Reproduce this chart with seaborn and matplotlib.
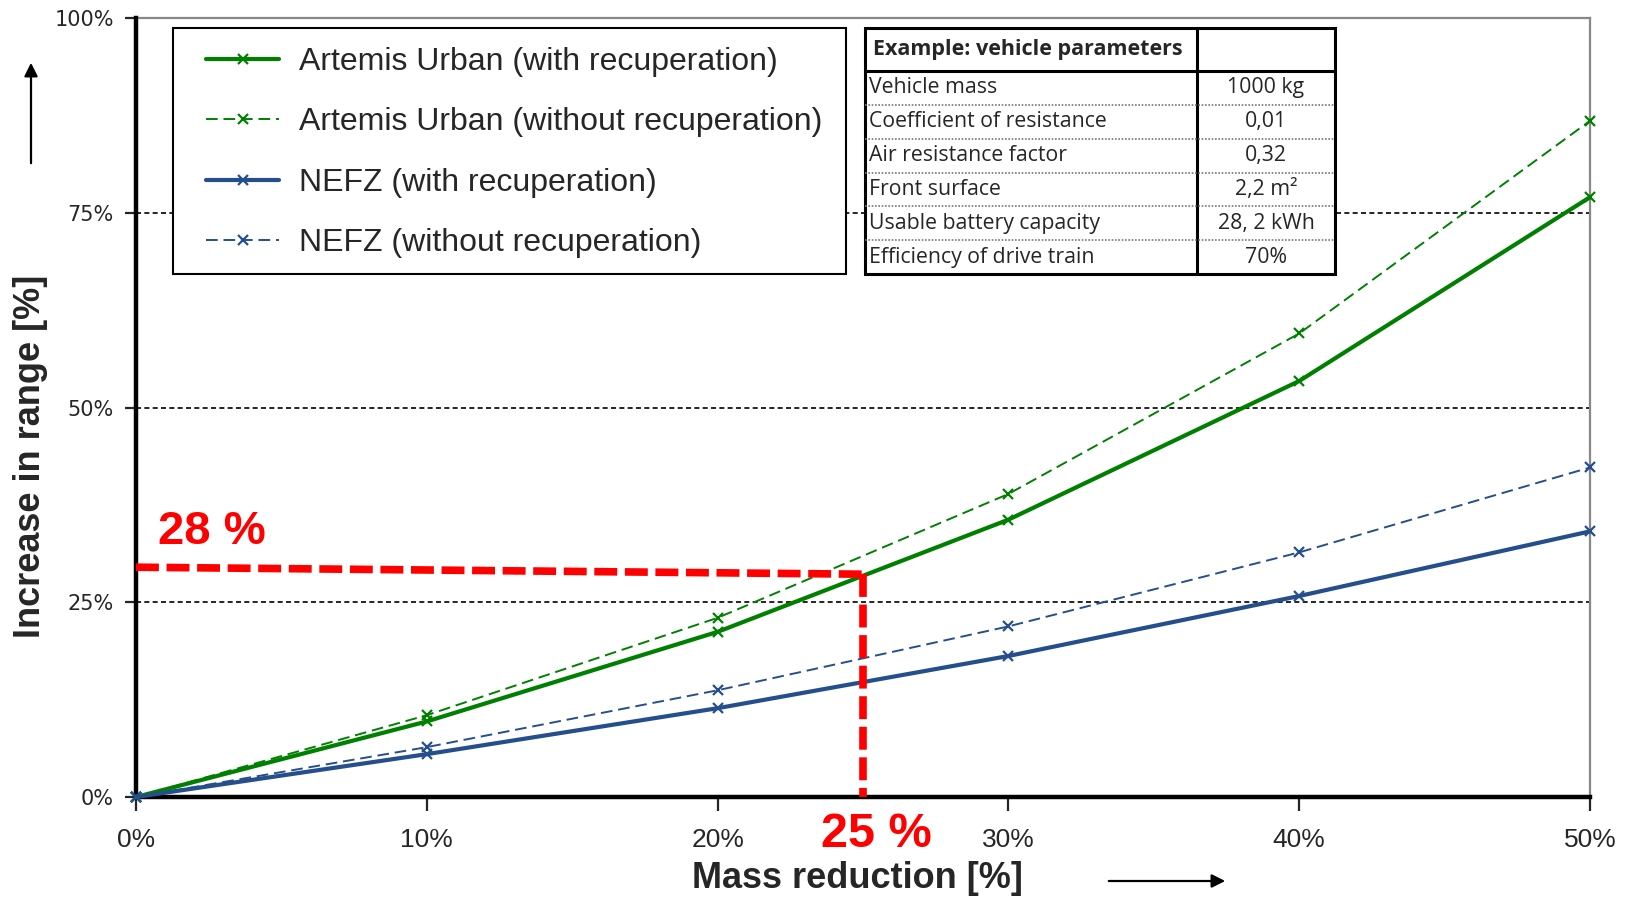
import numpy as np
import pandas as pd
import seaborn as sns
import matplotlib
matplotlib.use("Agg")
from matplotlib import pyplot as plt
from matplotlib import font_manager
from matplotlib.patches import Rectangle

# data (mass reduction in %, increase in range in %)
mass_reduction = [0, 10, 20, 30, 40, 50]
artemis_with = [0, 9.7, 21.2, 35.6, 53.4, 77.0]
artemis_without = [0, 10.5, 23.0, 38.9, 59.5, 86.8]
nefz_with = [0, 5.5, 11.4, 18.1, 25.8, 34.1]
nefz_without = [0, 6.4, 13.7, 21.9, 31.4, 42.3]

series_labels = [
    "Artemis Urban (with recuperation)",
    "Artemis Urban (without recuperation)",
    "NEFZ (with recuperation)",
    "NEFZ (without recuperation)",
]

# highlighted example point
marked_x = 25
marked_y_start = 29.5
marked_y_end = 28.6

x_ticks = [0, 10, 20, 30, 40, 50]
y_ticks = [0, 25, 50, 75, 100]

table_header = "Example: vehicle parameters"
table_params = [
    "Vehicle mass",
    "Coefficient of resistance",
    "Air resistance factor",
    "Front surface",
    "Usable battery capacity",
    "Efficiency of drive train",
]
table_values = ["1000 kg", "0,01", "0,32", "2,2 m²", "28, 2 kWh", "70%"]

GREEN = "#008000"
BLUE = "#254F8C"
RED = "#FF0000"

sns.set_style("white")
names = {f.name for f in font_manager.fontManager.ttflist}
NARROW = "Liberation Sans Narrow" if "Liberation Sans Narrow" in names else "Liberation Sans"
plt.rcParams["font.family"] = ["Liberation Sans", "DejaVu Sans"]

W, H = 1639, 898
fig = plt.figure(figsize=(W / 100, H / 100), dpi=100)
# axes box in pixels: left 136, right 1590, top 18, bottom 797
ax = fig.add_axes([136 / W, 1 - 797 / H, (1590 - 136) / W, (797 - 18) / H])

df = pd.DataFrame({
    "x": mass_reduction * 4,
    "y": artemis_with + artemis_without + nefz_with + nefz_without,
    "series": np.repeat(series_labels, len(mass_reduction)),
})

styles = [
    (GREEN, 3.0, "-"),
    (GREEN, 1.4, (0, (6, 3))),
    (BLUE, 3.0, "-"),
    (BLUE, 1.4, (0, (6, 3))),
]
for label, (color, lw, ls) in zip(series_labels, styles):
    sub = df[df["series"] == label]
    sns.lineplot(data=sub, x="x", y="y", ax=ax, color=color, linewidth=lw,
                 linestyle=ls, marker="x", markersize=7, markeredgewidth=1.6,
                 markeredgecolor=color, label=label, clip_on=False, zorder=4)

# dashed grid lines between spines
for yv in y_ticks[1:-1]:
    ax.axhline(yv, color="black", linewidth=1.2, linestyle=(0, (3, 2)), zorder=1)

# red example marker lines
ax.plot([0, marked_x], [marked_y_start, marked_y_end], color=RED, linewidth=5.5,
        linestyle=(0, (3.0, 1.0)), solid_capstyle="butt", zorder=5)
ax.plot([marked_x, marked_x], [marked_y_end, 0], color=RED, linewidth=5.5,
        linestyle=(0, (3.0, 1.0)), zorder=5)
ax.text(0.75, 34, "28 %", color=RED, fontsize=34, fontweight="bold",
        ha="left", va="center", zorder=6)
ax.text(marked_x + 0.45, -4.8, "25 %", color=RED, fontsize=35, fontweight="bold",
        family=[NARROW, "DejaVu Sans"], ha="center", va="center", clip_on=False)

ax.set_xlim(0, 50)
ax.set_ylim(0, 100)
ax.set_xticks(x_ticks)
ax.set_yticks(y_ticks)
ax.set_xticklabels([f"{v}%" for v in x_ticks], family=[NARROW, "DejaVu Sans"], fontsize=19)
ax.set_yticklabels([f"{v}%" for v in y_ticks], family=["DejaVu Sans"], fontsize=15)
ax.tick_params(axis="x", direction="out", length=10, width=1.6, pad=12, bottom=True)
ax.tick_params(axis="y", direction="out", length=8, width=1.6, pad=8, left=True)
ax.set_xlabel("")
ax.set_ylabel("")

for side in ["left", "bottom"]:
    ax.spines[side].set_color("black")
    ax.spines[side].set_linewidth(3.2)
    ax.spines[side].set_zorder(3)
for side in ["top", "right"]:
    ax.spines[side].set_color("#888888")
    ax.spines[side].set_linewidth(1.6)

# axis titles and arrows
fig.text(857 / W, 1 - 878 / H, "Mass reduction [%]", fontsize=26, fontweight="bold",
         family=[NARROW, "DejaVu Sans"], ha="center", va="center")
fig.text(31 / W, 1 - 456 / H, "Increase in range [%]", fontsize=26, fontweight="bold",
         family=[NARROW, "DejaVu Sans"], ha="center", va="center", rotation=90)
fig.add_artist(matplotlib.patches.FancyArrowPatch(
    (31 / W, 1 - 166 / H), (31 / W, 1 - 60 / H), transform=fig.transFigure,
    arrowstyle="-|>,head_length=8,head_width=4", color="black", linewidth=1.6))
fig.add_artist(matplotlib.patches.FancyArrowPatch(
    (1106 / W, 1 - 881 / H), (1228 / W, 1 - 881 / H), transform=fig.transFigure,
    arrowstyle="-|>,head_length=8,head_width=4", color="black", linewidth=1.6))

# legend: frame drawn separately so its padding matches the reference
ax.add_patch(Rectangle((173 / W, 1 - 274 / H), (846 - 173) / W, (274 - 28) / H,
                       transform=fig.transFigure, facecolor="white",
                       edgecolor="black", linewidth=1.5, zorder=6, clip_on=False))
leg = ax.legend(loc="upper left", bbox_to_anchor=(206 / W, 1 - 47 / H),
                bbox_transform=fig.transFigure, borderaxespad=0, fontsize=23,
                frameon=False, handlelength=2.3, handletextpad=0.6,
                labelspacing=0.95, borderpad=0, numpoints=1)
leg.set_zorder(7)

# parameter table, drawn in its own pixel-based axes
tx0, tx1, ty0, ty1 = 865, 1335, 28, 274
tax = fig.add_axes([tx0 / W, 1 - ty1 / H, (tx1 - tx0) / W, (ty1 - ty0) / H])
tax.set_xlim(0, tx1 - tx0)
tax.set_ylim(ty1 - ty0, 0)
tax.axis("off")
col_split = 1197 - tx0
head_h = 71 - ty0
row_h = (ty1 - ty0 - head_h) / len(table_params)
tax.add_patch(Rectangle((0, 0), tx1 - tx0, ty1 - ty0, facecolor="white",
                        edgecolor="black", linewidth=2.2, clip_on=False))
tax.plot([col_split, col_split], [0, ty1 - ty0], color="black", linewidth=2.2, clip_on=False)
tax.plot([0, tx1 - tx0], [head_h, head_h], color="black", linewidth=2.2, clip_on=False)
for i in range(1, len(table_params)):
    yy = head_h + i * row_h
    tax.plot([0, tx1 - tx0], [yy, yy], color="#777777", linewidth=1.2,
             linestyle=(0, (1, 1)), clip_on=False)
tax.text(8, head_h / 2, table_header, fontsize=15.5, fontweight="bold",
         family=["Open Sans", "DejaVu Sans"], ha="left", va="center")
for i, (p, v) in enumerate(zip(table_params, table_values)):
    yc = head_h + (i + 0.5) * row_h
    tax.text(4, yc, p, fontsize=15.3, family=["Open Sans", "DejaVu Sans"],
             ha="left", va="center")
    tax.text((col_split + tx1 - tx0) / 2, yc, v, fontsize=15.3,
             family=["Open Sans", "DejaVu Sans"], ha="center", va="center")

fig.savefig("out.png", dpi=100)
plt.close(fig)
